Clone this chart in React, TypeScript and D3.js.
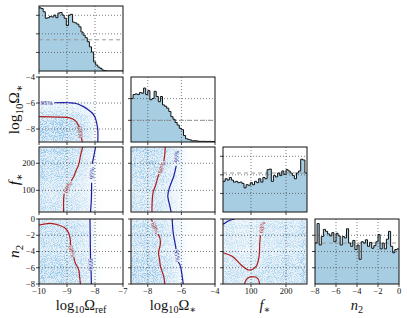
import { useEffect, useRef } from "react"
import * as d3 from "d3"

// parameter ranges and ticks
const OMREF_DOMAIN = [-10, -7]
const OMSTAR_DOMAIN = [-9, -4]
const FSTAR_DOMAIN = [20, 260]
const N2_DOMAIN = [-8, 0]
const OMREF_TICKS = [-10, -9, -8, -7]
const OMSTAR_TICKS = [-8, -6, -4]
const FSTAR_TICKS = [100, 200]
const N2_TICKS = [-8, -6, -4, -2, 0]

// marginal histograms (40 bins each)
const OMREF_HIST = [340, 336, 319, 284, 287, 294, 291, 301, 287, 312, 315, 301, 284, 245, 301, 305, 263, 259, 252, 238,
  210, 193, 179, 158, 130, 102, 49, 32, 21, 14, 5, 2, 0, 0, 0, 0, 0, 0, 0, 0]
const OMSTAR_HIST = [201, 219, 222, 219, 228, 225, 249, 219, 237, 195, 201, 234, 210, 186, 210, 171, 165, 156, 141, 117,
  105, 90, 78, 63, 57, 30, 15, 12, 9, 5, 6, 5, 3, 3, 3, 3, 2, 3, 2, 2]
const FSTAR_HIST = [165, 179, 172, 186, 172, 161, 165, 158, 161, 154, 130, 147, 144, 158, 147, 165, 158, 179, 161, 186,
  179, 228, 231, 165, 196, 189, 210, 196, 221, 203, 228, 221, 210, 196, 179, 210, 221, 284, 280, 210]
const N2_HIST = [252, 372, 240, 292, 336, 324, 308, 296, 316, 260, 312, 296, 240, 292, 284, 340, 252, 232, 268, 212,
  240, 152, 260, 252, 272, 232, 256, 220, 236, 260, 304, 216, 252, 216, 276, 324, 232, 192, 212, 216]
const HIST_MAX = [350, 300, 350, 400]
const HIST_TICKS = [[100, 200, 300], [100, 200], [100, 200, 300], [100, 200, 300]]
const HIST_REF = [168, 100, 210, 252]

// credible contours: [x param, y param], segments split where the inline label sits
const CONTOURS = [
  { xi: 0, yi: 1, level: "68%", segs: [
    [[-10, -7.05], [-9.3, -7.08], [-8.94, -7.13], [-8.78, -7.25], [-8.68, -7.42], [-8.6, -7.69], [-8.57, -7.8]],
    [[-8.49, -8.65], [-8.47, -8.8], [-8.46, -9]]] },
  { xi: 0, yi: 1, level: "95%", segs: [
    [[-10, -5.98]],
    [[-9.45, -5.98], [-8.94, -5.98], [-8.7, -6.02], [-8.41, -6.28], [-8.22, -6.55], [-8.1, -6.77], [-8.0, -7.1],
      [-7.94, -7.54], [-7.9, -8.08], [-7.9, -9]]] },
  { xi: 0, yi: 2, level: "68%", segs: [
    [[-9.12, 20], [-9.12, 67], [-9.1, 88]],
    [[-8.85, 135], [-8.76, 150], [-8.7, 167], [-8.58, 196], [-8.52, 227], [-8.44, 260]]] },
  { xi: 0, yi: 2, level: "95%", segs: [
    [[-8.16, 20], [-8.13, 67], [-8.12, 128]],
    [[-8.1, 198], [-8.04, 227], [-7.98, 260]]] },
  { xi: 0, yi: 3, level: "68%", segs: [
    [[-10, -0.74], [-9.6, -0.53], [-9.3, -0.74], [-9.06, -1.14], [-8.94, -1.76], [-8.88, -2.58], [-8.88, -3.2]],
    [[-8.76, -4.7], [-8.7, -5.45], [-8.58, -6.28], [-8.55, -7.1], [-8.52, -8]]] },
  { xi: 0, yi: 3, level: "95%", segs: [
    [[-8.18, 0], [-8.16, -4.9]],
    [[-8.14, -6.3], [-8.13, -8]]] },
  { xi: 1, yi: 2, level: "68%", segs: [
    [[-6.96, 260], [-7.0, 227], [-7.05, 208]],
    [[-7.33, 160], [-7.39, 150], [-7.55, 116], [-7.69, 91], [-7.75, 42], [-7.75, 20]]] },
  { xi: 1, yi: 2, level: "95%", segs: [
    [[-6.27, 260]],
    [[-6.31, 190], [-6.45, 153], [-6.71, 110], [-6.81, 79], [-6.71, 48], [-6.61, 20]]] },
  { xi: 1, yi: 3, level: "68%", segs: [
    [[-7.8, 0], [-7.72, -0.35]],
    [[-7.4, -1.85], [-7.3, -2.2], [-7.25, -3.0], [-7.33, -3.8], [-7.36, -4.2], [-7.3, -5.0], [-7.25, -5.8],
      [-7.05, -7.1], [-6.99, -8]]] },
  { xi: 1, yi: 3, level: "95%", segs: [
    [[-6.55, 0], [-6.49, -1.64], [-6.35, -3.3], [-6.32, -3.7]],
    [[-6.18, -5.3], [-6.05, -5.87], [-5.95, -7.1], [-5.89, -8]]] },
  { xi: 2, yi: 3, level: "68%", segs: [
    [[20, -4.15], [48, -4.64], [72, -5.66], [95, -6.28], [114, -5.87], [123, -4.64], [125, -2.99], [127, -2.0]],
    [[135, -0.05]]] },
  { xi: 2, yi: 3, level: "68%", segs: [
    [[81, -8], [90, -7.3], [104, -7.1], [119, -7.3], [125, -8]]] },
  { xi: 2, yi: 3, level: "95%", segs: [
    [[20, -0.65], [25, -0.53], [35, -0.25], [53, 0]]] },
]

const PARAMS = [
  { domain: OMREF_DOMAIN, ticks: OMREF_TICKS, hist: OMREF_HIST,
    label: [{ t: "log" }, { t: "10", sub: true }, { t: "Ω" }, { t: "ref", sub: true }] },
  { domain: OMSTAR_DOMAIN, ticks: OMSTAR_TICKS, hist: OMSTAR_HIST,
    label: [{ t: "log" }, { t: "10", sub: true }, { t: "Ω" }, { t: "∗", sub: true }] },
  { domain: FSTAR_DOMAIN, ticks: FSTAR_TICKS, hist: FSTAR_HIST,
    label: [{ t: "f", it: true }, { t: "∗", sub: true }] },
  { domain: N2_DOMAIN, ticks: N2_TICKS, hist: N2_HIST,
    label: [{ t: "n", it: true }, { t: "2", sub: true }] },
]

const COL_X = [39, 131, 223, 315]
const ROW_Y = [6, 77, 147, 219]
const PW = 84
const PH = 65
const SERIF = "'Liberation Serif', 'DejaVu Serif', serif"
const RED = "#b01c1c"
const BLUE = "#1c1ca0"

const fmt = (d: number) => (d < 0 ? "\u2212" + Math.abs(d) : String(d))

function mathText(sel: any, parts: any[], size: number) {
  let shifted = false
  parts.forEach((p) => {
    const ts = sel.append("tspan").text(p.t)
    if (p.it) ts.attr("font-style", "italic")
    if (p.sub) {
      ts.attr("font-size", size * 0.7).attr("dy", shifted ? 0 : size * 0.25)
      shifted = true
    } else {
      ts.attr("font-size", size)
      if (shifted) ts.attr("dy", -size * 0.25)
      shifted = false
    }
  })
}

export default function App() {
  const svgRef = useRef<SVGSVGElement>(null)

  useEffect(() => {
    if (!svgRef.current) return
    const svg = d3.select(svgRef.current)
    svg.selectAll("*").remove()
    const defs = svg.append("defs")

    // fine dot texture for the sample clouds
    const speckle = defs.append("filter").attr("id", "speckle")
      .attr("x", 0).attr("y", 0).attr("width", 1).attr("height", 1)
    speckle.append("feTurbulence").attr("type", "fractalNoise").attr("baseFrequency", 1.1)
      .attr("numOctaves", 1).attr("seed", 5)
    speckle.append("feColorMatrix").attr("type", "matrix")
      .attr("values", "0 0 0 0 0.2  0 0 0 0 0.5  0 0 0 0 0.78  9 0 0 0 -4.3")

    const soft = defs.append("filter").attr("id", "soft")
    soft.append("feGaussianBlur").attr("stdDeviation", 1.1)

    const scaleFor = (k: number, idx: number, vertical: boolean) => {
      const s = d3.scaleLinear().domain(PARAMS[k].domain)
      return vertical ? s.range([ROW_Y[idx] + PH, ROW_Y[idx]]) : s.range([COL_X[idx], COL_X[idx] + PW])
    }

    PARAMS.forEach((pr, row) => {
      PARAMS.forEach((pc, col) => {
        if (col > row) return
        const x0 = COL_X[col]
        const y0 = ROW_Y[row]
        const x = scaleFor(col, col, false)
        const g = svg.append("g")
        const clipId = `clip-${row}-${col}`
        defs.append("clipPath").attr("id", clipId)
          .append("rect").attr("x", x0).attr("y", y0).attr("width", PW).attr("height", PH)
        const inner = g.append("g").attr("clip-path", `url(#${clipId})`)
        const n = pc.hist.length
        const edges = d3.range(n + 1).map((i) => pc.domain[0] + (i * (pc.domain[1] - pc.domain[0])) / n)
        let yTicks: number[] = []
        let y: d3.ScaleLinear<number, number>

        if (row === col) {
          y = d3.scaleLinear().domain([0, HIST_MAX[col]]).range([y0 + PH, y0])
          yTicks = HIST_TICKS[col]
          const pts: [number, number][] = pc.hist.map((v, i) => [edges[i], v] as [number, number])
          pts.push([edges[n], pc.hist[n - 1]])
          inner.append("path")
            .attr("d", d3.area<[number, number]>().x((d) => x(d[0])).y0(y(0)).y1((d) => y(d[1]))
              .curve(d3.curveStepAfter)(pts))
            .attr("fill", "#a6cde2")
          // grid
          pc.ticks.filter((t) => t > pc.domain[0] && t < pc.domain[1]).forEach((t) => {
            inner.append("line").attr("x1", x(t)).attr("x2", x(t)).attr("y1", y0).attr("y2", y0 + PH)
              .attr("stroke", "#444").attr("stroke-width", 0.7).attr("stroke-dasharray", "1,2")
          })
          yTicks.forEach((t) => {
            inner.append("line").attr("x1", x0).attr("x2", x0 + PW).attr("y1", y(t)).attr("y2", y(t))
              .attr("stroke", "#444").attr("stroke-width", 0.7).attr("stroke-dasharray", "1,2")
          })
          inner.append("line").attr("x1", x0).attr("x2", x0 + PW)
            .attr("y1", y(HIST_REF[col])).attr("y2", y(HIST_REF[col]))
            .attr("stroke", "#999").attr("stroke-width", 1).attr("stroke-dasharray", "4,3")
          inner.append("path")
            .attr("d", d3.line<[number, number]>().x((d) => x(d[0])).y((d) => y(d[1]))
              .curve(d3.curveStepAfter)(pts))
            .attr("fill", "none").attr("stroke", "#111").attr("stroke-width", 1)
        } else {
          y = scaleFor(row, row, true)
          yTicks = pr.ticks
          const nr = pr.hist.length
          const rEdges = d3.range(nr + 1).map((i) => pr.domain[0] + (i * (pr.domain[1] - pr.domain[0])) / nr)
          const mx = d3.max(pc.hist) || 1
          const my = d3.max(pr.hist) || 1
          const maskId = `mask-${row}-${col}`
          const mg = defs.append("mask").attr("id", maskId).attr("maskUnits", "userSpaceOnUse")
            .attr("x", x0).attr("y", y0).attr("width", PW).attr("height", PH)
            .append("g").attr("filter", "url(#soft)")
          pc.hist.forEach((vx, i) => {
            pr.hist.forEach((vy, j) => {
              const d = Math.min(1, 1.2 * (vx / mx) * (vy / my))
              if (d <= 0) return
              mg.append("rect")
                .attr("x", x(edges[i])).attr("width", x(edges[i + 1]) - x(edges[i]))
                .attr("y", y(rEdges[j + 1])).attr("height", y(rEdges[j]) - y(rEdges[j + 1]))
                .attr("fill", "#fff").attr("fill-opacity", d)
            })
          })
          const dens = inner.append("g").attr("mask", `url(#${maskId})`)
          dens.append("rect").attr("x", x0).attr("y", y0).attr("width", PW).attr("height", PH)
            .attr("fill", "#d5e6f4")
          dens.append("rect").attr("x", x0).attr("y", y0).attr("width", PW).attr("height", PH)
            .attr("fill", "#000").attr("filter", "url(#speckle)")
          // grid
          pc.ticks.filter((t) => t > pc.domain[0] && t < pc.domain[1]).forEach((t) => {
            inner.append("line").attr("x1", x(t)).attr("x2", x(t)).attr("y1", y0).attr("y2", y0 + PH)
              .attr("stroke", "#444").attr("stroke-width", 0.7).attr("stroke-dasharray", "1,2")
          })
          pr.ticks.filter((t) => t > pr.domain[0] && t < pr.domain[1]).forEach((t) => {
            inner.append("line").attr("x1", x0).attr("x2", x0 + PW).attr("y1", y(t)).attr("y2", y(t))
              .attr("stroke", "#444").attr("stroke-width", 0.7).attr("stroke-dasharray", "1,2")
          })
          // contours
          CONTOURS.filter((c) => c.xi === col && c.yi === row).forEach((c) => {
            const color = c.level === "68%" ? RED : BLUE
            const line = d3.line<number[]>().x((d) => x(d[0])).y((d) => y(d[1])).curve(d3.curveCatmullRom)
            c.segs.forEach((s, k) => {
              if (s.length > 1) {
                inner.append("path").attr("d", line(s)).attr("fill", "none")
                  .attr("stroke", color).attr("stroke-width", 1.2)
              }
              if (k < c.segs.length - 1) {
                const p = s[s.length - 1]
                const q = c.segs[k + 1][0]
                const px = (x(p[0]) + x(q[0])) / 2
                const py = (y(p[1]) + y(q[1])) / 2
                let ang = (Math.atan2(y(q[1]) - y(p[1]), x(q[0]) - x(p[0])) * 180) / Math.PI
                if (ang > 90) ang -= 180
                if (ang < -90) ang += 180
                inner.append("text").attr("transform", `translate(${px},${py}) rotate(${ang})`)
                  .attr("text-anchor", "middle").attr("dy", "0.35em")
                  .attr("font-family", SERIF).attr("font-size", 6.5).attr("fill", color)
                  .text(c.level)
              }
            })
          })
        }

        // frame
        g.append("rect").attr("x", x0).attr("y", y0).attr("width", PW).attr("height", PH)
          .attr("fill", "none").attr("stroke", "#111").attr("stroke-width", 1)
        // tick marks
        pc.ticks.forEach((t) => {
          g.append("line").attr("x1", x(t)).attr("x2", x(t)).attr("y1", y0 + PH).attr("y2", y0 + PH + 3)
            .attr("stroke", "#111").attr("stroke-width", 0.8)
        })
        yTicks.forEach((t) => {
          g.append("line").attr("x1", x0 - 3).attr("x2", x0).attr("y1", y(t)).attr("y2", y(t))
            .attr("stroke", "#111").attr("stroke-width", 0.8)
        })
        // tick labels
        if (row === 3) {
          pc.ticks.forEach((t) => {
            g.append("text").attr("x", x(t)).attr("y", y0 + PH + 9.5).attr("text-anchor", "middle")
              .attr("font-family", SERIF).attr("font-size", 8.5).attr("fill", "#111").text(fmt(t))
          })
        }
        if (col === 0 && row > 0) {
          pr.ticks.forEach((t) => {
            g.append("text").attr("x", x0 - 4).attr("y", y(t)).attr("dy", "0.33em").attr("text-anchor", "end")
              .attr("font-family", SERIF).attr("font-size", 8.5).attr("fill", "#111").text(fmt(t))
          })
        }
      })
    })

    // axis labels
    PARAMS.forEach((p, k) => {
      const bx = svg.append("text").attr("x", COL_X[k] + PW / 2).attr("y", 309.5).attr("text-anchor", "middle")
        .attr("font-family", SERIF).attr("fill", "#111")
      mathText(bx, p.label, 14.5)
      if (k > 0) {
        const cy = ROW_Y[k] + PH / 2
        const ly = svg.append("text").attr("transform", `translate(19,${cy}) rotate(-90)`)
          .attr("text-anchor", "middle").attr("font-family", SERIF).attr("fill", "#111")
        mathText(ly, p.label, 15.5)
      }
    })
  }, [])

  return (
    <svg
      ref={svgRef}
      width={407}
      height={318}
      style={{ position: "absolute", left: 0, top: 0, background: "#fff" }}
    ></svg>
  )
}
